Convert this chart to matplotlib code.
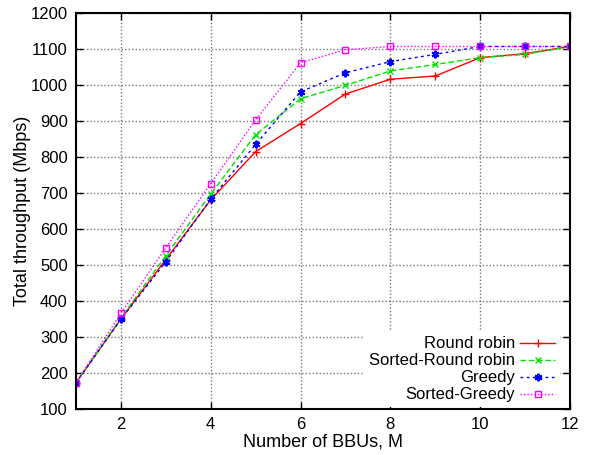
import matplotlib
matplotlib.use("Agg")
import matplotlib.pyplot as plt

plt.rcParams['font.family'] = ['Liberation Sans', 'DejaVu Sans']

m_values = [1, 2, 3, 4, 5, 6, 7, 8, 9, 10, 11, 12]
round_robin = [173, 350, 515, 681, 815, 893, 975, 1016, 1025, 1076, 1087, 1107]
sorted_round_robin = [173, 353, 526, 697, 862, 962, 999, 1039, 1057, 1076, 1085, 1107]
greedy = [173, 349, 509, 683, 835, 981, 1034, 1065, 1085, 1107, 1107, 1107]
sorted_greedy = [173, 366, 548, 726, 903, 1062, 1098, 1107, 1107, 1107, 1107, 1107]

series_labels = ["Round robin", "Sorted-Round robin", "Greedy", "Sorted-Greedy"]
x_ticks = [2, 4, 6, 8, 10, 12]
y_ticks = list(range(100, 1201, 100))

fig = plt.figure(figsize=(5.98, 4.55), dpi=100)
ax = fig.add_axes([76/598, 1-409/455, (570-76)/598, (409-13)/455])

ax.plot(m_values, round_robin, color='#ff0000', linestyle='-', linewidth=1.0,
        marker='+', markersize=6, markeredgewidth=1.0, label=series_labels[0])
ax.plot(m_values, sorted_round_robin, color='#00e000', linestyle=(0, (4, 2)), linewidth=1.0,
        marker='x', markersize=5, markeredgewidth=1.0, label=series_labels[1])
ax.plot(m_values, greedy, color='#0000ff', linestyle=(0, (2, 2.5)), linewidth=1.0,
        marker=(6, 2, 0), markersize=5.5, markeredgewidth=1.5, label=series_labels[2])
ax.plot(m_values, sorted_greedy, color='#ff00ff', linestyle=(0, (1, 1.5)), linewidth=1.0,
        marker='s', markersize=5, markerfacecolor='none', markeredgewidth=1.0, label=series_labels[3])

ax.set_xlim(1, 12)
ax.set_ylim(100, 1200)
ax.set_xticks(x_ticks)
ax.set_yticks(y_ticks)
ax.tick_params(direction='in', top=True, right=True, labelsize=12, length=5, width=1, pad=6)
ax.grid(True, color='#777777', linestyle=(0, (1, 1.5)), linewidth=1.0)
ax.set_axisbelow(True)
for sp in ax.spines.values():
    sp.set_linewidth(1.5)

ax.set_xlabel("Number of BBUs, M", fontsize=13, labelpad=1)
ax.set_ylabel("Total throughput (Mbps)", fontsize=13)
ax.yaxis.set_label_coords(-0.092, 0.5)

leg = ax.legend(loc='lower right', bbox_to_anchor=(1 - 8/494, 0.0),
                markerfirst=False, fontsize=12, frameon=True,
                fancybox=False, edgecolor='none', facecolor='white', framealpha=1.0,
                handlelength=2.1, labelspacing=0.12, borderaxespad=0.1, borderpad=0.3,
                handletextpad=0.3)
for t in leg.get_texts():
    t.set_ha('right')
leg._legend_box.align = "right"

fig.savefig("out.png", dpi=100)
